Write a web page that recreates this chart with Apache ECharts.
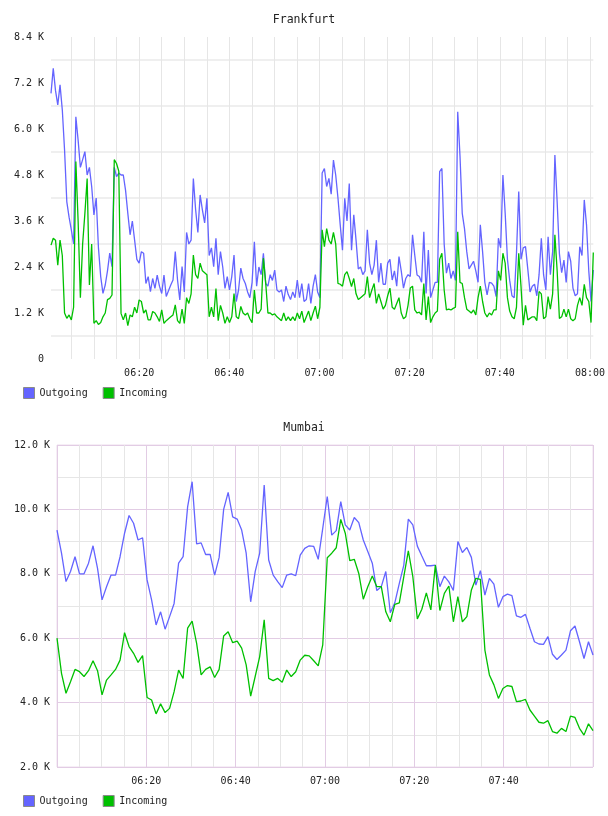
<!DOCTYPE html>
<html>
<head>
<meta charset="utf-8">
<script src="https://cdn.jsdelivr.net/npm/echarts@6/dist/echarts.min.js"></script>
<style>
  html, body { margin: 0; padding: 0; background: #fff; }
  .chart { width: 608px; height: 408px; }
</style>
</head>
<body>
<div id="frankfurt" class="chart"></div>
<div id="mumbai" class="chart"></div>
<script>
// Frankfurt: one sample every 30 s, 06:00:30 .. 08:00:30, values in K
const fraOutgoing = [
  6.93, 7.58, 7.0, 6.63, 7.15, 6.5, 5.45, 4.1, 3.7, 3.37,
  3.0, 6.32, 5.71, 5.0, 5.2, 5.41, 4.8, 5.0, 4.5, 3.76,
  4.2, 2.9, 2.15, 1.71, 1.93, 2.3, 2.76, 2.41, 5.0, 4.76,
  4.85, 4.8, 4.8, 4.4, 3.8, 3.24, 3.6, 3.1, 2.6, 2.5,
  2.8, 2.76, 1.97, 2.15, 1.76, 2.1, 1.84, 2.19, 1.9, 1.71,
  2.19, 1.63, 1.78, 1.93, 2.06, 2.8, 2.06, 1.54, 2.41, 1.75,
  3.3, 3.0, 3.1, 4.71, 3.9, 3.3, 4.28, 3.89, 3.55, 4.19,
  2.7, 2.9, 2.41, 3.15, 2.2, 2.8, 2.4, 1.84, 2.15, 1.8,
  2.15, 2.71, 1.5, 1.8, 2.37, 2.1, 1.97, 1.75, 1.6, 2.0,
  3.06, 1.9, 2.4, 2.2, 2.76, 1.97, 1.9, 2.2, 2.05, 2.32,
  1.8, 1.75, 1.8, 1.5, 1.9, 1.68, 1.55, 1.75, 1.6, 2.06,
  1.6, 1.97, 1.5, 1.55, 1.97, 1.45, 1.9, 2.2, 1.75, 1.6,
  4.85, 4.97, 4.5, 4.71, 4.3, 5.19, 4.8, 4.2, 3.5, 2.84,
  4.19, 3.6, 4.58, 2.84, 3.76, 3.1, 2.35, 2.4, 2.2, 2.3,
  3.37, 2.5, 2.2, 2.45, 3.1, 2.0, 2.5, 1.95, 1.95, 2.5,
  2.6, 2.06, 2.3, 1.9, 2.67, 2.3, 1.85, 2.1, 2.2, 2.15,
  3.24, 2.7, 2.19, 2.15, 2.0, 3.32, 1.71, 2.84, 1.6, 1.8,
  2.0, 2.0, 4.89, 4.97, 3.0, 2.24, 2.5, 2.1, 2.3, 2.05,
  6.45, 5.3, 3.8, 3.4, 2.8, 2.35, 2.45, 2.55, 2.3, 2.0,
  3.5, 2.8, 2.0, 1.67, 2.0, 1.98, 1.9, 1.63, 3.15, 2.9,
  4.8, 3.8, 2.6, 2.05, 1.65, 1.6, 2.75, 4.37, 2.6, 2.9,
  2.93, 2.35, 1.75, 1.9, 1.95, 1.65, 2.2, 3.15, 2.2, 1.8,
  3.19, 2.2, 2.8, 5.32, 4.1, 2.75, 2.25, 2.58, 2.0, 2.8,
  2.55, 1.85, 1.65, 1.7, 2.93, 2.7, 4.15, 3.5, 2.3, 1.5,
  2.32
];
const fraIncoming = [
  2.97, 3.15, 3.1, 2.45, 3.1, 2.7, 1.2, 1.06, 1.15, 1.02,
  1.35, 5.15, 3.6, 1.6, 3.0, 3.8, 4.71, 1.93, 3.0, 0.93,
  1.0, 0.9, 0.95, 1.1, 1.2, 1.55, 1.58, 1.67, 5.2, 5.1,
  4.9, 1.19, 1.02, 1.2, 0.87, 1.15, 1.1, 1.35, 1.2, 1.54,
  1.5, 1.2, 1.28, 1.02, 1.02, 1.24, 1.2, 1.1, 0.98, 1.28,
  0.93, 1.0, 1.05, 1.1, 1.15, 1.41, 1.0, 0.93, 1.3, 0.93,
  1.6, 1.45, 1.7, 2.71, 2.2, 2.1, 2.5, 2.3, 2.25, 2.2,
  1.1, 1.35, 1.1, 1.84, 1.0, 1.4, 1.2, 0.93, 1.1, 0.95,
  1.1, 1.71, 1.1, 1.05, 1.37, 1.2, 1.15, 1.2, 1.05, 0.95,
  1.8, 1.2, 1.2, 1.3, 2.63, 2.0, 1.2, 1.2, 1.15, 1.18,
  1.1, 1.05, 1.0, 1.2, 1.0, 1.1, 1.0, 1.1, 1.0, 1.2,
  1.05, 1.25, 0.95, 1.1, 1.25, 1.0, 1.2, 1.38, 1.05, 1.35,
  3.37, 2.93, 3.4, 3.1, 3.0, 3.3, 3.0, 1.97, 1.95, 1.9,
  2.2, 2.28, 2.1, 1.89, 2.1, 1.7, 1.55, 1.6, 1.65, 1.7,
  2.15, 1.6, 1.8, 1.97, 1.45, 1.7, 1.5, 1.3, 1.4, 1.65,
  1.85, 1.35, 1.3, 1.45, 1.6, 1.2, 1.05, 1.1, 1.4, 1.85,
  1.9, 1.28, 1.2, 1.22, 1.15, 1.97, 1.02, 1.63, 0.95, 1.1,
  1.2, 1.25, 2.6, 2.76, 1.8, 1.28, 1.3, 1.28, 1.32, 1.35,
  3.32, 2.0, 1.97, 1.6, 1.3, 1.25, 1.2, 1.28, 1.15, 1.6,
  1.9, 1.5, 1.2, 1.1, 1.2, 1.15, 1.28, 1.28, 2.3, 2.05,
  2.76, 2.5, 1.6, 1.25, 1.1, 1.05, 1.35, 2.76, 1.9, 0.88,
  1.4, 1.02, 1.06, 1.1, 1.1, 1.0, 1.76, 1.7, 1.05, 1.1,
  1.63, 1.3, 1.7, 3.24, 2.3, 1.06, 1.1, 1.3, 1.1, 1.3,
  1.05, 1.0, 1.05, 1.4, 1.6, 1.4, 1.95, 1.6, 1.5, 0.95,
  2.78
];

// Mumbai: one sample per minute, 06:00 .. 07:59, values in K
const bomOutgoing = [
  9.36, 8.64, 7.76, 8.07, 8.53, 8.0, 8.0, 8.33, 8.87, 8.17,
  7.19, 7.6, 7.96, 7.96, 8.53, 9.26, 9.81, 9.57, 9.05, 9.12,
  7.81, 7.19, 6.41, 6.82, 6.28, 6.67, 7.08, 8.33, 8.53, 10.08,
  10.86, 8.93, 8.96, 8.6, 8.6, 7.96, 8.51, 10.0, 10.53, 9.77,
  9.7, 9.36, 8.64, 7.13, 8.07, 8.64, 10.76, 8.43, 7.96, 7.76,
  7.57, 7.96, 8.0, 7.94, 8.58, 8.79, 8.87, 8.85, 8.45, 9.41,
  10.4, 9.2, 9.34, 10.24, 9.52, 9.36, 9.75, 9.59, 9.05, 8.69,
  8.33, 7.48, 7.6, 8.07, 6.79, 7.1, 7.7, 8.27, 9.7, 9.52,
  8.86, 8.55, 8.25, 8.25, 8.27, 7.6, 7.93, 7.75, 7.48, 9.0,
  8.66, 8.82, 8.51, 7.65, 8.1, 7.34, 7.86, 7.68, 6.96, 7.29,
  7.37, 7.32, 6.69, 6.65, 6.74, 6.31, 5.89, 5.82, 5.81, 6.05,
  5.5, 5.34, 5.48, 5.63, 6.23, 6.38, 5.89, 5.37, 5.89, 5.48
];
const bomIncoming = [
  6.0, 4.91, 4.29, 4.65, 5.03, 4.96, 4.81, 4.99, 5.3, 4.99,
  4.24, 4.7, 4.86, 5.03, 5.32, 6.17, 5.74, 5.53, 5.25, 5.46,
  4.16, 4.08, 3.65, 3.96, 3.69, 3.82, 4.34, 5.01, 4.75, 6.31,
  6.53, 5.84, 4.86, 5.03, 5.11, 4.78, 5.03, 6.07, 6.2, 5.86,
  5.91, 5.69, 5.17, 4.2, 4.81, 5.43, 6.57, 4.75, 4.68, 4.75,
  4.63, 5.01, 4.81, 4.96, 5.32, 5.47, 5.45, 5.3, 5.14, 5.79,
  8.5, 8.64, 8.81, 9.69, 9.26, 8.41, 8.45, 8.01, 7.21, 7.6,
  7.93, 7.6, 7.6, 6.82, 6.51, 7.05, 7.1, 7.91, 8.71, 7.91,
  6.6, 6.9, 7.41, 6.88, 8.27, 6.86, 7.39, 7.62, 6.51, 7.29,
  6.51, 6.67, 7.5, 7.86, 7.83, 5.63, 4.86, 4.55, 4.13, 4.44,
  4.53, 4.5, 4.03, 4.05, 4.1, 3.77, 3.58, 3.39, 3.36, 3.44,
  3.1, 3.05, 3.2, 3.1, 3.58, 3.54, 3.2, 2.99, 3.34, 3.13
];

const seriesNames = ['Outgoing', 'Incoming'];
const seriesColors = ['#6464ff', '#00c000'];

const MONO = '"DejaVu Sans Mono", monospace';
const TEXT = '#222';

function pad(n) { return (n < 10 ? '0' : '') + n; }

// hh:mm:ss labels for the hidden category axis
function timeLabels(startSec, stepSec, count) {
  const out = [];
  for (let i = 0; i < count; i++) {
    const s = startSec + i * stepSec;
    out.push(pad(Math.floor(s / 3600)) + ':' + pad(Math.floor(s / 60) % 60) + ':' + pad(s % 60));
  }
  return out;
}
const fraTimes = timeLabels(6 * 3600 + 30, 30, fraOutgoing.length);
const bomTimes = timeLabels(6 * 3600, 60, bomOutgoing.length);

// x axis is minutes after 06:00, labelled every 20 minutes
function minuteLabel(lastMinute) {
  return function (v) {
    if (v <= 0 || v > lastMinute || v % 20 !== 0) return '';
    const m = 360 + v;
    return pad(Math.floor(m / 60)) + ':' + pad(m % 60);
  };
}

function lineSeries(xIndex, yIndex, outData, inData) {
  return [outData, inData].map((d, i) => ({
    name: seriesNames[i],
    type: 'line',
    xAxisIndex: xIndex,
    yAxisIndex: yIndex,
    data: d,
    showSymbol: false,
    symbol: 'none',
    lineStyle: { color: seriesColors[i], width: 1.3 },
    itemStyle: { color: seriesColors[i] },
    z: 3 + i
  }));
}

function common(title) {
  return {
    animation: false,
    backgroundColor: '#fff',
    color: seriesColors,
    title: {
      text: title,
      left: 'center',
      top: 14,
      padding: 0,
      textStyle: { fontFamily: MONO, fontSize: 11.5, fontWeight: 'normal', color: TEXT }
    },
    legend: {
      left: 23,
      top: 387,
      padding: 0,
      icon: 'rect',
      itemWidth: 11,
      itemHeight: 11,
      itemGap: 15,
      itemStyle: { borderColor: '#8a8a8a', borderWidth: 1 },
      textStyle: { fontFamily: MONO, fontSize: 10, color: TEXT, padding: [0, 0, 0, 0] },
      data: seriesNames
    }
  };
}

// ---------- Frankfurt ----------
const fraChart = echarts.init(document.getElementById('frankfurt'));
fraChart.setOption(Object.assign(common('Frankfurt'), {
  grid: [
    { left: 51, top: 37, width: 542.3, height: 322 },
    { left: 49, top: 37, width: 544.3, height: 322 }
  ],
  xAxis: [
    { type: 'category', gridIndex: 0, data: fraTimes, boundaryGap: false, show: false },
    {
      type: 'value', gridIndex: 1, min: 0, max: 120.45, interval: 5,
      axisLine: { show: false }, axisTick: { show: false },
      splitLine: { show: true, showMinLine: false, showMaxLine: false, lineStyle: { color: '#e6e6e6', width: 1 } },
      axisLabel: { formatter: minuteLabel(120), margin: 9, fontFamily: MONO, fontSize: 10, color: TEXT }
    }
  ],
  yAxis: [
    {
      type: 'value', gridIndex: 0, min: 0, max: 8.4, interval: 0.6,
      axisLine: { show: false }, axisTick: { show: false },
      splitLine: { show: true, lineStyle: { color: ['rgba(0,0,0,0)', '#efefef'], width: 2 } },
      axisLabel: {
        margin: 7, fontFamily: MONO, fontSize: 10, color: TEXT,
        formatter: function (v) {
          const k = Math.round(v / 0.6);
          if (k % 2) return '';
          return k === 0 ? '0' : (k * 0.6).toFixed(1) + ' K';
        }
      }
    },
    { type: 'value', gridIndex: 1, show: false, min: 0, max: 1, splitLine: { show: false } }
  ],
  series: lineSeries(0, 0, fraOutgoing, fraIncoming)
}));

// ---------- Mumbai ----------
const PURPLE = '#e2cce4';
const GRAY = '#e6e6e6';
const bomChart = echarts.init(document.getElementById('mumbai'));
bomChart.setOption(Object.assign(common('Mumbai'), {
  grid: [
    { left: 57, top: 37, width: 536, height: 322, show: true, borderColor: '#ecdcec', borderWidth: 1 }
  ],
  xAxis: [
    {
      type: 'value', gridIndex: 0, min: 0, max: 120, interval: 5,
      axisLine: { show: false }, axisTick: { show: false },
      splitLine: { show: true, lineStyle: { color: [PURPLE, GRAY, GRAY, GRAY], width: 1 } },
      axisLabel: { formatter: minuteLabel(119), margin: 9, fontFamily: MONO, fontSize: 10, color: TEXT }
    },
    { type: 'category', gridIndex: 0, data: bomTimes, boundaryGap: false, show: false, position: 'top' }
  ],
  yAxis: [
    {
      type: 'value', gridIndex: 0, min: 2, max: 12, interval: 1,
      axisLine: { show: false }, axisTick: { show: false },
      splitLine: { show: true, lineStyle: { color: [PURPLE, GRAY], width: 1 } },
      axisLabel: {
        margin: 7, fontFamily: MONO, fontSize: 10, color: TEXT,
        formatter: function (v) { return Math.round(v) % 2 ? '' : v.toFixed(1) + ' K'; }
      }
    }
  ],
  series: lineSeries(1, 0, bomOutgoing, bomIncoming)
}));
</script>
</body>
</html>
